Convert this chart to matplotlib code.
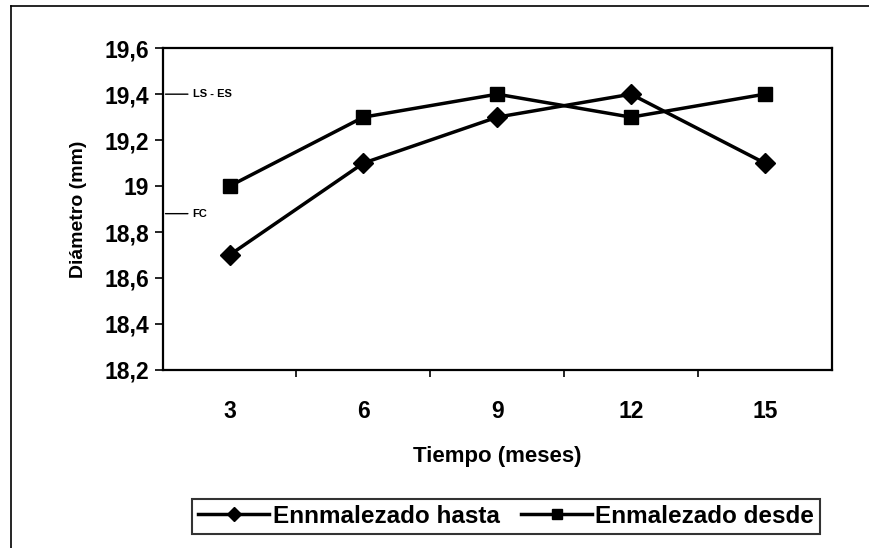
import matplotlib.pyplot as plt
from matplotlib.lines import Line2D

plt.rcParams["font.family"] = ["Liberation Sans", "DejaVu Sans"]
plt.rcParams["font.weight"] = "bold"
plt.rcParams["axes.labelweight"] = "bold"

meses = [3, 6, 9, 12, 15]
hasta = [18.7, 19.1, 19.3, 19.4, 19.1]
desde = [19.0, 19.3, 19.4, 19.3, 19.4]
yticks = [18.2, 18.4, 18.6, 18.8, 19.0, 19.2, 19.4, 19.6]
ytick_labels = ["18,2", "18,4", "18,6", "18,8", "19", "19,2", "19,4", "19,6"]
ref_lines = [(19.4, "LS - ES"), (18.88, "FC")]

fig = plt.figure(figsize=(8.7, 5.48), dpi=100)
ax = fig.add_axes([0.187, 0.325, 0.769, 0.587])

# outer frame of the chart area (scan is cropped right/bottom)
fig.add_artist(Line2D([11 / 870, 11 / 870], [0, 1 - 6 / 548], color="black", lw=1.2))
fig.add_artist(Line2D([11 / 870, 1], [1 - 6 / 548, 1 - 6 / 548], color="black", lw=1.2))

x = range(len(meses))
ax.plot(x, hasta, color="black", lw=2.5, marker="D", ms=10, label="Ennmalezado hasta")
ax.plot(x, desde, color="black", lw=2.5, marker="s", ms=10.5, label="Enmalezado desde")

ax.set_xlim(-0.5, len(meses) - 0.5)
ax.set_ylim(18.2, 19.6)
ax.set_xticks([i + 0.5 for i in range(len(meses) - 1)])
ax.set_xticklabels([])
ax.set_xticks(list(x), minor=True)
ax.set_xticklabels([str(m) for m in meses], minor=True)
ax.tick_params(axis="x", which="minor", length=0, pad=22, labelsize=16.5)
ax.tick_params(axis="x", which="major", direction="out", length=5, width=1.2)
ax.set_yticks(yticks)
ax.set_yticklabels(ytick_labels)
ax.tick_params(axis="y", direction="out", length=6, width=1.2, labelsize=16.5, pad=4)
for s in ax.spines.values():
    s.set_linewidth(1.6)

for yv, txt in ref_lines:
    ax.annotate("", xy=(0, yv), xycoords=("axes fraction", "data"),
                xytext=(28, 0), textcoords="offset pixels",
                arrowprops=dict(arrowstyle="-", lw=1, color="black"))
    ax.annotate(txt, xy=(0, yv), xycoords=("axes fraction", "data"),
                xytext=(30, 0), textcoords="offset pixels",
                fontsize=8, va="center", ha="left")

ax.set_xlabel("Tiempo (meses)", fontsize=16, labelpad=16)
ax.set_ylabel("Diámetro (mm)", fontsize=14, labelpad=12)

leg = fig.legend(loc="center", bbox_to_anchor=(0.582, 0.058), ncol=2,
                 fontsize=17.5, frameon=True, fancybox=False, edgecolor="black",
                 handlelength=2.9, handletextpad=0.15, columnspacing=0.9,
                 borderpad=0.25, markerscale=0.75)
leg.get_frame().set_linewidth(1.5)

fig.savefig("out.png", dpi=100)
